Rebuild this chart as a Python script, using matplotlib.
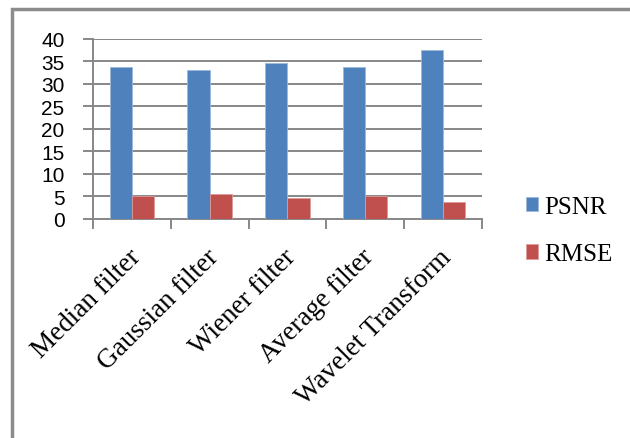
import numpy as np
import matplotlib.pyplot as plt
import matplotlib.transforms as mtransforms
from matplotlib.patches import Rectangle

methods = ['Median filter', 'Gaussian filter', 'Wiener filter', 'Average filter', 'Wavelet Transform']
psnr = [33.8, 33.2, 34.7, 33.8, 37.6]
rmse = [5.0, 5.5, 4.6, 5.0, 3.8]

fig = plt.figure(figsize=(6.3, 4.39), dpi=100)
ax = fig.add_axes([0.1476, 0.4989, 0.6174, 0.41])

# outer chart frame (open at right and bottom)
fig.patches.append(Rectangle((12 / 630, -0.05), 1.0, 1 - 10 / 439 + 0.05,
                             transform=fig.transFigure, fill=False,
                             edgecolor='#8c8c8c', linewidth=2.5))

x = np.arange(len(methods))
w = 0.2857
ax.bar(x - w / 2, psnr, w, color='#4F81BD', edgecolor='#9db8dc', linewidth=0.6, label='PSNR', zorder=3)
ax.bar(x + w / 2, rmse, w, color='#C0504D', edgecolor='#dc9a98', linewidth=0.6, label='RMSE', zorder=3)

ax.set_xlim(-0.5, len(methods) - 0.5)
ax.set_ylim(0, 40)
ax.set_yticks(range(0, 41, 5))
ax.yaxis.grid(True, color='#878787', linewidth=1.4, zorder=0)
ax.set_axisbelow(True)

for s in ['top', 'right']:
    ax.spines[s].set_visible(False)
for s in ['left', 'bottom']:
    ax.spines[s].set_color('#878787')
    ax.spines[s].set_linewidth(1.4)

ax.set_xticks(np.arange(-0.5, len(methods)), minor=False)
ax.set_xticks(x, minor=True)
ax.tick_params(axis='x', which='major', length=7, width=1.4, color='#878787', labelbottom=False)
ax.tick_params(axis='x', which='minor', length=0, pad=18)
ax.set_xticklabels(methods, minor=True, rotation=45, ha='right', rotation_mode='anchor',
                   fontfamily='Liberation Serif', fontsize=19.5)
shift = mtransforms.ScaledTranslation(-4 / 100, 0, fig.dpi_scale_trans)
for lab in ax.get_xticklabels(minor=True):
    lab.set_transform(lab.get_transform() + shift)

ax.tick_params(axis='y', length=7, width=1.4, color='#878787', pad=13.5)
for lab in ax.get_yticklabels():
    lab.set_fontfamily('Liberation Sans')
    lab.set_fontsize(15)

leg = ax.legend(loc='upper left', bbox_to_anchor=(513 / 630, 1 - 184 / 439),
                bbox_transform=fig.transFigure, frameon=False,
                prop={'family': 'Liberation Serif', 'size': 18},
                handlelength=0.5, handleheight=0.5, handletextpad=0.25,
                labelspacing=1.03, borderpad=0)

fig.savefig('out.png', dpi=100)
